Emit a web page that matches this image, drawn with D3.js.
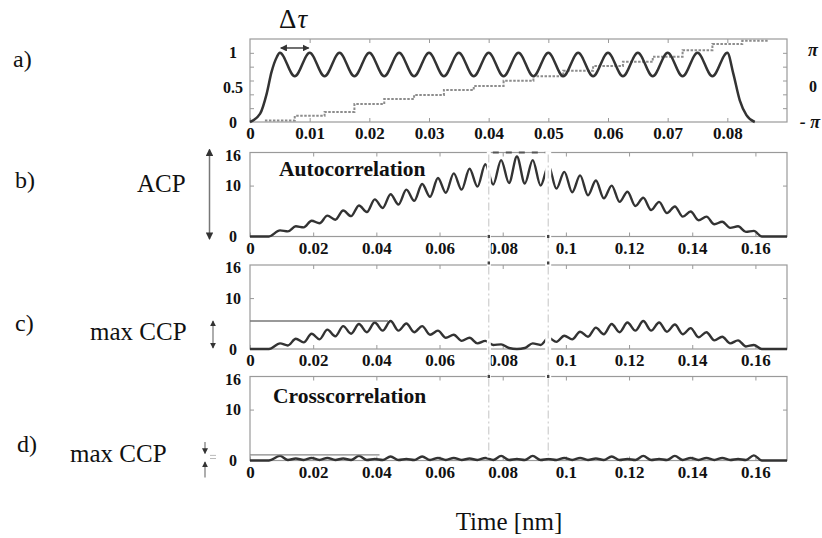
<!DOCTYPE html>
<html><head><meta charset="utf-8">
<script src="https://cdn.jsdelivr.net/npm/d3@7"></script>
<style>
html,body{margin:0;padding:0;background:#fff;}
svg{display:block;}
</style></head><body>
<svg id="chart" width="822" height="538"></svg>
<script>
// ---------- data ----------
// a) pulse train intensity: turning points of the waveform
const pulseTime = [0, 0.0017, 0.0028, 0.0036, 0.0045, 0.005, 0.0075, 0.01, 0.0125, 0.015, 0.0175, 0.02, 0.0225, 0.025, 0.0275, 0.03, 0.0325, 0.035, 0.0375, 0.04, 0.0425, 0.045, 0.0475, 0.05, 0.0525, 0.055, 0.0575, 0.06, 0.0625, 0.065, 0.0675, 0.07, 0.0725, 0.075, 0.0775, 0.08, 0.081, 0.0821, 0.0832, 0.0846];
const pulseIntensity = [0, 0.12, 0.41, 0.72, 0.94, 1.0, 0.66, 1.0, 0.66, 1.0, 0.66, 1.0, 0.66, 1.0, 0.66, 1.0, 0.66, 1.0, 0.66, 1.0, 0.66, 1.0, 0.66, 1.0, 0.66, 1.0, 0.66, 1.0, 0.66, 1.0, 0.66, 1.0, 0.66, 1.0, 0.66, 1.0, 0.70, 0.31, 0.10, 0];
// a) stepped phase (units of π), each value held until the next step
const phaseTime = [0.0025, 0.0075, 0.0125, 0.0175, 0.0225, 0.0275, 0.0325, 0.0375, 0.0425, 0.0475, 0.0525, 0.0575, 0.0625, 0.0675, 0.0725, 0.0775, 0.0825, 0.087];
const phaseValue = [-0.96, -0.83, -0.72, -0.50, -0.36, -0.25, -0.11, 0.0, 0.14, 0.27, 0.42, 0.55, 0.67, 0.81, 0.99, 1.16, 1.25, 1.25];

// b)–d) correlation traces, sampled at their maxima and minima
const lagTime = [0, 0.006, 0.0095, 0.012, 0.0145, 0.017, 0.0195, 0.022, 0.0245, 0.027, 0.0295, 0.032, 0.0345, 0.037, 0.0395, 0.042, 0.0445, 0.047, 0.0495, 0.052, 0.0545, 0.057, 0.0595, 0.062, 0.0645, 0.067, 0.0695, 0.072, 0.0745, 0.077, 0.0795, 0.082, 0.0845, 0.087, 0.0895, 0.092, 0.0945, 0.097, 0.0995, 0.102, 0.1045, 0.107, 0.1095, 0.112, 0.1145, 0.117, 0.1195, 0.122, 0.1245, 0.127, 0.1295, 0.132, 0.1345, 0.137, 0.1395, 0.142, 0.1445, 0.147, 0.1495, 0.152, 0.1545, 0.157, 0.1595, 0.162, 0.17];
const autoCorr = [0, 0, 1.2, 1.0, 2.0, 1.8, 3.1, 2.6, 4.1, 3.3, 5.1, 4.0, 6.1, 4.8, 7.3, 5.6, 8.3, 6.3, 9.2, 7.0, 10.3, 7.8, 11.5, 8.6, 12.4, 9.2, 13.3, 9.8, 14.2, 10.2, 15.0, 10.5, 15.7, 10.4, 15.0, 10.0, 13.9, 9.4, 12.7, 8.7, 12.0, 8.1, 11.0, 7.5, 10.0, 6.8, 8.8, 6.0, 7.6, 5.2, 6.8, 4.6, 5.9, 3.9, 4.9, 3.2, 3.9, 2.4, 2.9, 1.7, 2.0, 0.9, 1.1, 0, 0];
const partCorr = [0, 0, 1.1, 0.7, 2.0, 1.3, 3.0, 1.9, 3.8, 2.5, 4.5, 3.0, 4.9, 3.3, 5.2, 3.6, 5.5, 3.6, 5.0, 3.3, 4.5, 2.8, 3.6, 2.2, 2.8, 1.6, 2.2, 1.1, 1.6, 0.8, 0.9, 0.2, 0, 0.2, 1.1, 0.8, 2.2, 1.4, 2.6, 1.9, 3.4, 2.4, 4.2, 2.9, 4.9, 3.3, 5.2, 3.6, 5.5, 3.6, 5.2, 3.4, 4.8, 2.9, 4.1, 2.3, 3.3, 1.7, 2.4, 1.1, 1.7, 0.5, 0.8, 0, 0];
const crossCorr = [0, 0, 0.9, 0.1, 0.4, 0.1, 0.5, 0.1, 0.5, 0.1, 0.4, 0.1, 0.9, 0.1, 0.3, 0.1, 0.8, 0.1, 0.3, 0.1, 0.8, 0.1, 0.5, 0.1, 0.5, 0.1, 0.4, 0.1, 0.5, 0.1, 0.9, 0.1, 0.3, 0.1, 0.9, 0.1, 0.3, 0.1, 0.5, 0.1, 0.5, 0.1, 0.4, 0.1, 0.8, 0.1, 0.3, 0.1, 0.9, 0.1, 0.3, 0.1, 0.9, 0.1, 0.5, 0.1, 0.5, 0.1, 0.5, 0.1, 0.3, 0.1, 1.0, 0, 0];

// levels of the "max CCP" markers
const maxCcpC = 5.5;
const maxCcpD = 1.1;

// tick values and labels
const pulseTicks = [0, 0.01, 0.02, 0.03, 0.04, 0.05, 0.06, 0.07, 0.08];
const pulseGrid = [0.2, 0.4, 0.6, 0.8, 1.0];
const pulseLabels = [0, 0.5, 1];
const phaseLabels = [-1, 0, 1];
const lagTicks = [0, 0.02, 0.04, 0.06, 0.08, 0.1, 0.12, 0.14, 0.16];
const corrGrid = [10];
const corrLabels = [0, 10, 16];
const gapLags = [0.0756, 0.0944];

// ---------- layout ----------
const svg = d3.select("#chart");
const L = 250, R = 787;
const serif = '"Liberation Serif","Times New Roman",serif';

const xA = d3.scaleLinear().domain([0, 0.09]).range([L, R]);
const yA = d3.scaleLinear().domain([0, 1.2]).range([122, 39]);
const yPh = d3.scaleLinear().domain([-1, 1.3]).range([122, 39]);
const xL = d3.scaleLinear().domain([0, 0.17]).range([L, R]);
const yB = d3.scaleLinear().domain([0, 16.5]).range([236.5, 152.5]);
const yC = d3.scaleLinear().domain([0, 16.5]).range([349, 265]);
const yD = d3.scaleLinear().domain([0, 16.5]).range([460.5, 376.5]);

const defs = svg.append("defs");
defs.append("marker").attr("id", "head").attr("viewBox", "0 0 8 8")
  .attr("refX", 7).attr("refY", 4).attr("markerWidth", 5).attr("markerHeight", 5)
  .attr("orient", "auto-start-reverse")
  .append("path").attr("d", "M0,0 L8,4 L0,8 Z").attr("fill", "#333");

function panel(x, y, xTicks, yGrid, yLabels, fmtX, fmtY) {
  const g = svg.append("g");
  const [b, t] = y.range();
  g.append("rect").attr("x", L).attr("y", t).attr("width", R - L).attr("height", b - t)
    .attr("fill", "none").attr("stroke", "#9a9a9a").attr("stroke-width", 1.2);
  const style = sel => {
    sel.select(".domain").remove();
    sel.selectAll(".tick line").attr("stroke", "#9a9a9a");
  };
  g.append("g").attr("transform", `translate(0,${t})`)
    .call(d3.axisTop(x).tickValues(xTicks.filter(v => v > 0)).tickSize(-4).tickFormat(""))
    .call(style);
  g.append("g").attr("transform", `translate(0,${b})`)
    .call(d3.axisBottom(x).tickValues(xTicks).tickSizeInner(-4).tickSizeOuter(0).tickPadding(5).tickFormat(fmtX))
    .call(style)
    .call(s => s.selectAll("text").attr("font-family", serif).attr("font-weight", "bold")
      .attr("font-size", 17).attr("fill", "#111"));
  g.append("g").attr("transform", `translate(${L},0)`)
    .call(d3.axisLeft(y).tickValues(yGrid).tickSize(-4).tickFormat(""))
    .call(style);
  g.append("g").attr("transform", `translate(${R},0)`)
    .call(d3.axisRight(y).tickValues(yGrid).tickSize(-4).tickFormat(""))
    .call(style);
  g.append("g").attr("transform", `translate(${L},0)`)
    .call(d3.axisLeft(y).tickValues(yLabels).tickSize(0).tickFormat(fmtY))
    .call(s => s.select(".domain").remove())
    .call(s => s.selectAll("text").attr("x", -17).attr("text-anchor", "middle")
      .attr("font-family", serif).attr("font-weight", "bold").attr("font-size", 16).attr("fill", "#111"));
  return g;
}

const fmt = d3.format("~g");
panel(xA, yA, pulseTicks, pulseGrid, pulseLabels, fmt, fmt);
panel(xL, yB, lagTicks, corrGrid, corrLabels, fmt, fmt);
panel(xL, yC, lagTicks, corrGrid, corrLabels, fmt, fmt);
panel(xL, yD, lagTicks, corrGrid, corrLabels, fmt, fmt);

// phase axis on the right of panel a
svg.append("g").attr("transform", `translate(${R},0)`)
  .call(d3.axisRight(yPh).tickValues(phaseLabels).tickSize(0)
    .tickFormat(v => v === 0 ? "0" : (v < 0 ? "- π" : "π")))
  .call(s => s.select(".domain").remove())
  .call(s => s.selectAll("text")
    .attr("x", d => d < 0 ? 33 : 26)
    .attr("text-anchor", d => d < 0 ? "end" : "middle")
    .attr("font-family", serif).attr("font-weight", "bold").attr("fill", "#111")
    .attr("font-size", d => d === 0 ? 16 : 18)
    .attr("font-style", d => d === 0 ? "normal" : "italic"));

// ---------- traces ----------
const traceColor = "#333";
const phasePts = phaseTime.map((t, i) => [t, phaseValue[i]]);
svg.append("path").datum(phasePts)
  .attr("d", d3.line().x(d => xA(d[0])).y(d => yPh(d[1])).curve(d3.curveStepAfter))
  .attr("fill", "none").attr("stroke", "#8c8c8c").attr("stroke-width", 2)
  .attr("stroke-dasharray", "2.5,1.5");

const pulsePts = pulseTime.map((t, i) => [t, pulseIntensity[i]]);
svg.append("path").datum(pulsePts)
  .attr("d", d3.line().x(d => xA(d[0])).y(d => yA(d[1])).curve(d3.curveMonotoneX))
  .attr("fill", "none").attr("stroke", traceColor).attr("stroke-width", 2.5);

[[yB, autoCorr], [yC, partCorr], [yD, crossCorr]].forEach(([y, vals]) => {
  const pts = lagTime.map((t, i) => [t, vals[i]]);
  svg.append("path").datum(pts)
    .attr("d", d3.line().x(d => xL(d[0])).y(d => y(d[1])).curve(d3.curveMonotoneX))
    .attr("fill", "none").attr("stroke", traceColor).attr("stroke-width", 2.4)
    .attr("stroke-linejoin", "round");
});

// max CCP reference lines
svg.append("line").attr("x1", xL(0)).attr("x2", xL(0.0437))
  .attr("y1", yC(maxCcpC)).attr("y2", yC(maxCcpC))
  .attr("stroke", "#777").attr("stroke-width", 1.3);
svg.append("line").attr("x1", xL(0)).attr("x2", xL(0.041))
  .attr("y1", yD(maxCcpD)).attr("y2", yD(maxCcpD))
  .attr("stroke", "#888").attr("stroke-width", 1.3);

// gaps crossing panels b–d
gapLags.forEach((lag, i) => {
  const x = xL(lag);
  const w = i === 0 ? 4 : 6;
  svg.append("rect").attr("x", x - w / 2).attr("y", yB.range()[1] - 1).attr("width", w)
    .attr("height", yD.range()[0] - yB.range()[1] - 2).attr("fill", "#fff");
  svg.append("line").attr("x1", x).attr("x2", x).attr("y1", yB.range()[1] + 2).attr("y2", yD.range()[0] - 3)
    .attr("stroke", "#c4c4c4").attr("stroke-width", 1).attr("stroke-dasharray", "8,3,2,3");
  [yB.range()[0], yC.range()[1] - 2, yD.range()[1]].forEach(yy => {
    svg.append("rect").attr("x", x - 1.2).attr("y", yy - 1.5).attr("width", 2.4).attr("height", 3).attr("fill", "#444");
  });
});
svg.append("line").attr("x1", xL(gapLags[0]) + 4).attr("x2", xL(gapLags[1]) - 3)
  .attr("y1", yB.range()[1]).attr("y2", yB.range()[1])
  .attr("stroke", "#555").attr("stroke-width", 2).attr("stroke-dasharray", "6,7");

// ---------- annotations ----------
function arrow(x1, y1, x2, y2, both, color, width) {
  const l = svg.append("line").attr("x1", x1).attr("y1", y1).attr("x2", x2).attr("y2", y2)
    .attr("stroke", color).attr("stroke-width", width).attr("marker-end", "url(#head)");
  if (both) l.attr("marker-start", "url(#head)");
}
// Δτ between two neighbouring maxima
arrow(xA(0.005) + 1, yA(1.07), xA(0.01) - 1, yA(1.07), true, "#333", 1.4);
// ACP span
arrow(209.5, yB(16.5) - 3, 209.5, yB(0) + 2.5, true, "#777", 1.5);
// max CCP spans
arrow(213, yC(maxCcpC), 213, yC(0) - 1, true, "#777", 1.2);
arrow(205, yD(maxCcpD) - 13, 205, yD(maxCcpD) - 1.5, false, "#777", 1.2);
arrow(205, yD(0) + 17, 205, yD(0) + 1.5, false, "#777", 1.2);
[yD(maxCcpD) + 0.5, yD(0) - 2].forEach(yy =>
  svg.append("line").attr("x1", 210).attr("x2", 216).attr("y1", yy).attr("y2", yy)
    .attr("stroke", "#bbb").attr("stroke-width", 1));

const txt = (x, y, s, size, opts = {}) => svg.append("text").attr("x", x).attr("y", y)
  .attr("font-family", serif).attr("font-size", size).attr("fill", "#111")
  .attr("font-weight", opts.bold ? "bold" : "normal")
  .attr("text-anchor", opts.anchor || "start").text(s);

const dt = svg.append("text").attr("x", 279).attr("y", 28).attr("font-family", serif)
  .attr("font-size", 27).attr("fill", "#111");
dt.append("tspan").text("Δ");
dt.append("tspan").attr("font-style", "italic").attr("dx", 1).text("τ");

txt(13, 67, "a)", 24);
txt(15, 188, "b)", 24);
txt(15, 331, "c)", 24);
txt(17, 452, "d)", 24);
txt(137, 192, "ACP", 25);
txt(90, 340, "max CCP", 25);
txt(70, 462, "max CCP", 25);
txt(279, 176, "Autocorrelation", 21.5, { bold: true });
txt(273, 403, "Crosscorrelation", 21.5, { bold: true });
txt(509, 530, "Time [nm]", 25, { anchor: "middle" });
</script>
</body></html>
